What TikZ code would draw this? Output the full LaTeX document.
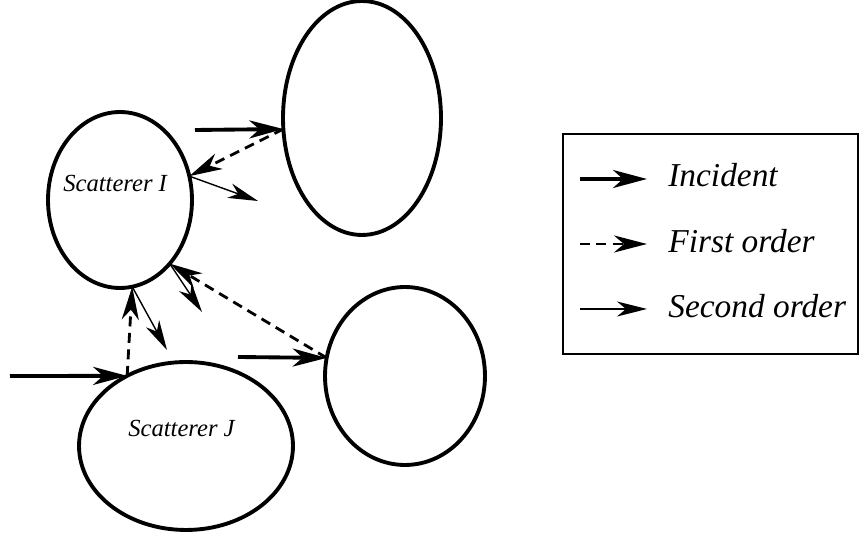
\documentclass[tikz,border=0pt]{standalone}
\usepackage{fontspec}
\setmainfont{Liberation Serif}
\usetikzlibrary{arrows.meta,shapes.geometric}

\begin{document}
\begin{tikzpicture}[x=0.02cm, y=-0.02cm,
    scat/.style={draw, ellipse, line width=2.2pt, inner sep=0pt, outer sep=0pt},
    inc/.style={line width=2.2pt, -{Stealth[length=0.68cm, width=0.36cm, inset=0.2cm]}},
    first/.style={line width=1.6pt, dash pattern=on 0.2cm off 0.13cm, -{Stealth[length=0.66cm, width=0.34cm, inset=0.2cm]}},
    second/.style={line width=0.8pt, -{Stealth[length=0.6cm, width=0.3cm, inset=0.18cm]}},
    lab/.style={font=\itshape\fontsize{14}{16}\selectfont, anchor=base west, inner sep=0pt},
    leg/.style={font=\itshape\fontsize{19}{22}\selectfont, anchor=base west, inner sep=0pt}]
    \useasboundingbox (0,0) rectangle (860,533);

    \node[scat, minimum width=2.88cm, minimum height=3.52cm] (si) at (120,200) {};
    \node[scat, minimum width=4.28cm, minimum height=3.36cm] (sj) at (186,446) {};
    \node[scat, minimum width=3.16cm, minimum height=4.68cm] (sk) at (362,118) {};
    \node[scat, minimum width=3.2cm, minimum height=3.56cm] (sl) at (405,376) {};

    \node[lab] (ti) at (63,192) {Scatterer I};
    \node[lab] (tj) at (128,437) {Scatterer J};

    \coordinate (ik) at (195,130);
    \coordinate (il) at (238,357);
    \coordinate (ij) at (10,376);
    \coordinate (ok) at (258,201);
    \coordinate (ol) at (202,312);
    \coordinate (oj) at (167,350);

    \draw[inc] (ik) -- (sk.188);
    \draw[inc] (il) -- (sl.167);
    \draw[inc] (ij) -- (sj.130);

    \draw[first] (sk.188) -- (si.19);
    \draw[first] (sl.167) -- (si.308);
    \draw[first] (sj.130) -- (si.278);

    \draw[second] (si.19) -- (ok);
    \draw[second] (si.308) -- (ol);
    \draw[second] (si.278) -- (oj);

    \node[draw, line width=0.8pt, minimum width=5.9cm, minimum height=4.4cm] (leg) at (710.5,244) {};
    \coordinate (a1) at (580,179);
    \coordinate (b1) at (647,179);
    \coordinate (a2) at (580,244);
    \coordinate (b2) at (647,244);
    \coordinate (a3) at (580,309);
    \coordinate (b3) at (647,309);
    \draw[inc] (a1) -- (b1);
    \draw[first] (a2) -- (b2);
    \draw[second] (a3) -- (b3);
    \node[leg] (l1) at (668,187) {Incident};
    \node[leg] (l2) at (668,253) {First order};
    \node[leg] (l3) at (668,318) {Second order};
\end{tikzpicture}
\end{document}
